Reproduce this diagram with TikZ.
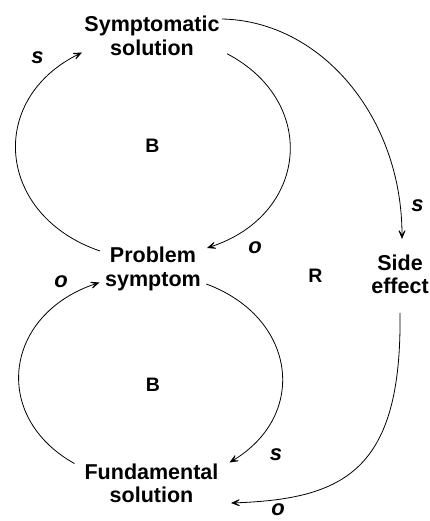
\documentclass[tikz,border=0pt]{standalone}
\usepackage{fontspec}
\setmainfont{Liberation Sans}
\usetikzlibrary{arrows.meta}
\begin{document}
\begin{tikzpicture}[x=1pt,y=-1pt,
  var/.style={font=\fontsize{21.5}{23.5}\selectfont\bfseries, align=center, inner sep=0pt, anchor=north},
  pol/.style={font=\fontsize{22}{24}\selectfont\bfseries\itshape, inner sep=0pt},
  loopmark/.style={font=\fontsize{19.5}{22}\selectfont\bfseries, inner sep=0pt},
  link/.style={line width=0.8pt, -{Stealth[length=12pt,width=10pt,inset=7.5pt]}}]
\useasboundingbox (0,0) rectangle (430,521);

% variables
\node[var] (ss) at (152,16.2) {Symptomatic\\solution};
\node[var] (ps) at (153,246.8) {Problem\\symptom};
\node[var] (fs) at (151.5,463.5) {Fundamental\\solution};
\node[var] (se) at (400,254.5) {Side\\effect};

% connector end points
\coordinate (ssA) at (227,53.7);
\coordinate (psA) at (207,248);
\coordinate (psB) at (100,251);
\coordinate (ssB) at (82,52.5);
\coordinate (psC) at (206.3,284);
\coordinate (fsA) at (229.5,462.5);
\coordinate (fsB) at (74.5,463.6);
\coordinate (psD) at (99.5,282.5);
\coordinate (ssC) at (222,19);
\coordinate (seA) at (402,239);
\coordinate (seB) at (400,313);
\coordinate (fsC) at (231,503);

% connectors
\draw[link] (ssA) .. controls (319.2,102.1) and (308,215) .. (psA);
\draw[link] (psB) .. controls (-3.3,215.7) and (-13.7,99.6) .. (ssB);
\draw[link] (psC) .. controls (296.3,317.4) and (308.8,415) .. (fsA);
\draw[link] (fsB) .. controls (-9.7,416.3) and (4.3,314) .. (psD);
\draw[link] (ssC) .. controls (321,21) and (402,117) .. (seA);
\draw[link] (seB) .. controls (402,470) and (345,499) .. (fsC);

% polarity labels
\node[pol] (p1) at (37.5,57.5) {s};
\node[pol] (p2) at (255,247.5) {o};
\node[pol] (p3) at (417.5,206) {s};
\node[pol] (p4) at (61,282) {o};
\node[pol] (p5) at (276,455) {s};
\node[pol] (p6) at (278,510) {o};

% loop markers
\node[loopmark] (b1) at (152.5,146) {B};
\node[loopmark] (b2) at (153,384.5) {B};
\node[loopmark] (r1) at (315.5,276) {R};
\end{tikzpicture}
\end{document}
